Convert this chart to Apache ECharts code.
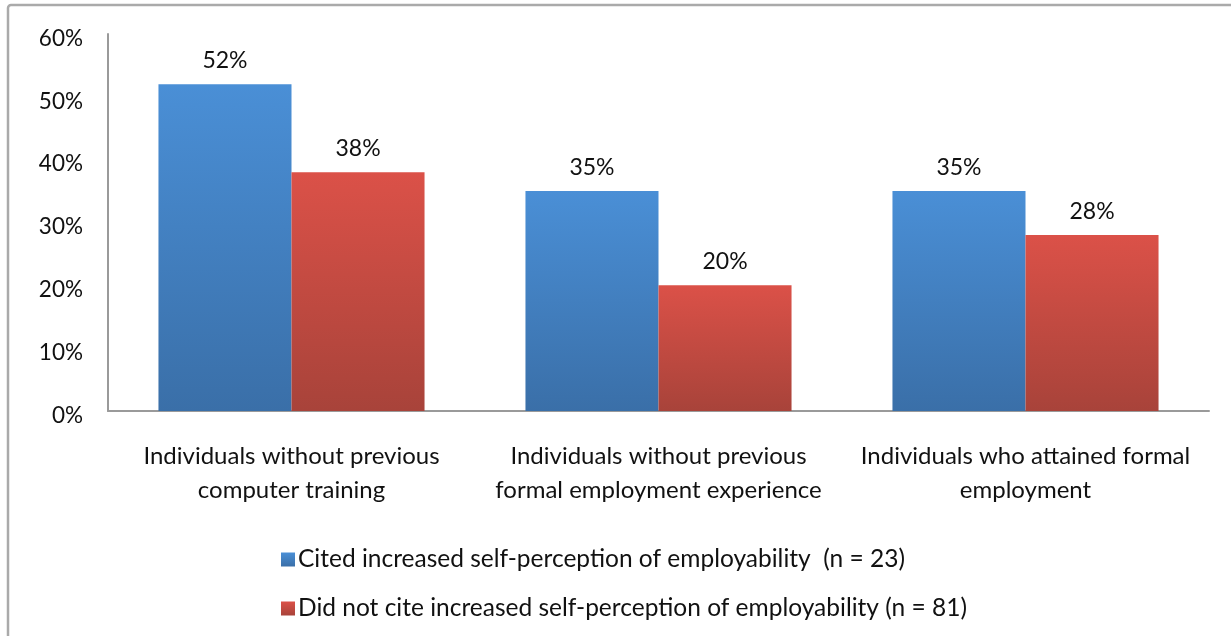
<!DOCTYPE html>
<html>
<head>
<meta charset="utf-8">
<style>
  html, body { margin: 0; padding: 0; background: #fff; }
  #chart { width: 1231px; height: 636px; }
</style>
<script src="https://cdn.jsdelivr.net/npm/echarts@6/dist/echarts.min.js"></script>
</head>
<body>
<div id="chart"></div>
<script>
// Share of respondents in each group, by whether they cited increased self-perception of employability
const categories = [
  'Individuals without previous\ncomputer training',
  'Individuals without previous\nformal employment experience',
  'Individuals who attained formal\nemployment'
];
const seriesNames = [
  'Cited increased self-perception of employability  (n = 23)',
  'Did not cite increased self-perception of employability (n = 81)'
];
const citedValues = [52, 35, 35];
const notCitedValues = [38, 20, 28];
const yTicks = [0, 10, 20, 30, 40, 50, 60];

const FONT = 'Lato, "Open Sans", sans-serif';

function grad(top, bottom) {
  return new echarts.graphic.LinearGradient(0, 0, 0, 1, [
    { offset: 0, color: top },
    { offset: 1, color: bottom }
  ]);
}

const chart = echarts.init(document.getElementById('chart'), null, { renderer: 'canvas' });

const labelCfg = {
  show: true,
  position: 'top',
  distance: 12,
  formatter: p => p.value + '%',
  fontFamily: FONT,
  fontSize: 23,
  color: '#111'
};

chart.setOption({
  animation: false,
  backgroundColor: '#fff',
  graphic: [{
    type: 'rect',
    shape: { x: 8, y: 5, width: 1400, height: 800, r: 3 },
    style: { fill: 'none', stroke: '#aaaaaa', lineWidth: 2.5 },
    z: 100
  }],
  grid: { left: 108, right: 22, top: 34, bottom: 225, containLabel: false },
  xAxis: {
    type: 'category',
    data: categories,
    axisLine: { lineStyle: { color: '#9a9a9a', width: 2 } },
    axisTick: { show: false },
    axisLabel: {
      fontFamily: FONT,
      fontSize: 24,
      color: '#111',
      lineHeight: 34,
      margin: 28,
      interval: 0
    }
  },
  yAxis: {
    type: 'value',
    min: yTicks[0],
    max: yTicks[yTicks.length - 1],
    interval: 10,
    axisLine: { show: true, lineStyle: { color: '#9a9a9a', width: 2 } },
    axisTick: { show: false },
    splitLine: { show: false },
    axisLabel: {
      formatter: v => v + '%',
      fontFamily: FONT,
      fontSize: 22.5,
      color: '#111',
      margin: 25,
      verticalAlign: 'top',
      lineHeight: 9
    }
  },
  legend: {
    orient: 'vertical',
    left: 276,
    top: 542,
    itemGap: 24,
    itemWidth: 14,
    itemHeight: 14,
    icon: 'rect',
    textStyle: { fontFamily: FONT, fontSize: 24.5, color: '#111', padding: [0, 0, 0, -2] },
    data: seriesNames
  },
  series: [
    {
      name: seriesNames[0],
      type: 'bar',
      data: citedValues,
      barGap: '0%',
      barCategoryGap: '27.5%',
      itemStyle: { color: grad('#4a8fd6', '#3a6fa8') },
      label: labelCfg
    },
    {
      name: seriesNames[1],
      type: 'bar',
      data: notCitedValues,
      itemStyle: { color: grad('#db5148', '#a8433a') },
      label: labelCfg
    }
  ]
});
</script>
</body>
</html>
